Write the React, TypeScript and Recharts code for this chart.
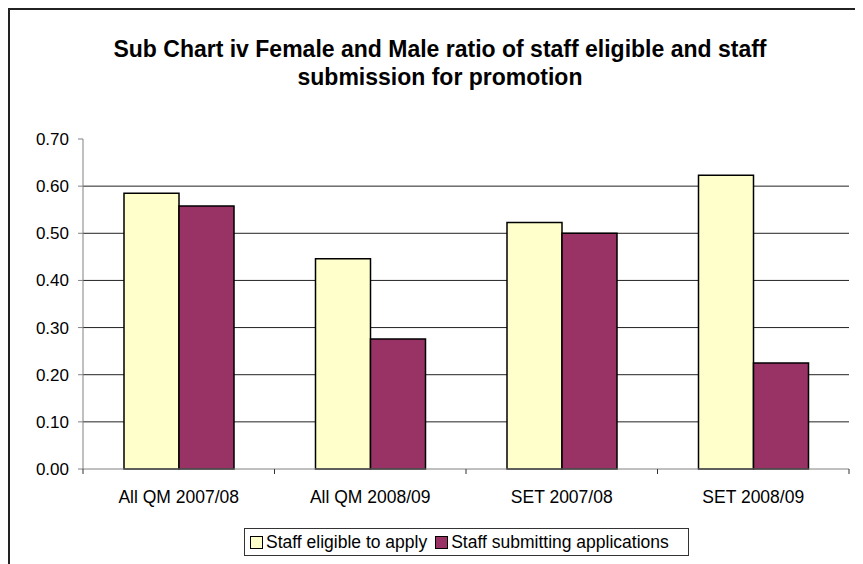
import React from 'react';
import { BarChart, Bar, XAxis, YAxis, CartesianGrid, Legend } from 'recharts';

const categories = ['All QM 2007/08', 'All QM 2008/09', 'SET 2007/08', 'SET 2008/09'];
const eligible = [0.585, 0.446, 0.523, 0.623];
const submitting = [0.558, 0.276, 0.5, 0.225];
const yTicks = [0, 0.1, 0.2, 0.3, 0.4, 0.5, 0.6, 0.7];
const gridValues = [0.1, 0.2, 0.3, 0.4, 0.5, 0.6];
const titleLines = [
  'Sub Chart iv Female and Male ratio of staff eligible and staff',
  'submission for promotion',
];
const seriesList = [
  { key: 'eligible', name: 'Staff eligible to apply', fill: '#FFFFCC' },
  { key: 'submitting', name: 'Staff submitting applications', fill: '#993366' },
];

const chartData = categories.map((c, i) => ({
  name: c,
  eligible: eligible[i],
  submitting: submitting[i],
}));

const FONT = '"Liberation Sans", Arial, sans-serif';
const X_TICK_SIZE = 6;
const X_TICK_MARGIN = 16;

// category labels centred, short tick marks on the category boundaries
const CategoryTick = (props: any) => {
  const { x, y, payload, index, visibleTicksCount } = props;
  const half = payload.offset ?? 0;
  const isLast = index === visibleTicksCount - 1;
  const axisY = y - X_TICK_SIZE - X_TICK_MARGIN;
  return (
    <g>
      <line x1={x - half} y1={axisY} x2={x - half} y2={axisY + 5} stroke="#333" />
      {isLast && <line x1={x + half} y1={axisY} x2={x + half} y2={axisY + 5} stroke="#333" />}
      <text x={x} y={y} dy="0.71em" textAnchor="middle" fill="#000" fontSize={17.5} fontFamily={FONT}>
        {payload.value}
      </text>
    </g>
  );
};

const renderLegend = () => (
  <div
    style={{
      border: '1px solid #333',
      width: 445,
      height: 28,
      boxSizing: 'border-box',
      display: 'flex',
      alignItems: 'center',
      paddingLeft: 5,
      fontSize: 17.5,
      fontFamily: FONT,
      color: '#000',
      whiteSpace: 'nowrap',
      background: '#fff',
    }}
  >
    {seriesList.map((s) => (
      <span key={s.key} style={{ display: 'flex', alignItems: 'center', marginRight: 8 }}>
        <span
          style={{
            display: 'inline-block',
            width: 13,
            height: 13,
            boxSizing: 'border-box',
            background: s.fill,
            border: '1.5px solid #000',
            marginRight: 3,
          }}
        />
        {s.name}
      </span>
    ))}
  </div>
);

export default function App() {
  return (
    <div style={{ position: 'relative', width: 855, height: 556, overflow: 'hidden' }}>
      <div
        style={{
          position: 'absolute',
          left: 0,
          top: 0,
          width: 900,
          height: 600,
          borderLeft: '2px solid #222',
          borderTop: '2px solid #222',
        }}
      />
      <div style={{ position: 'absolute', left: -8, top: -8 }}>
        <BarChart
          width={863}
          height={564}
          data={chartData}
          margin={{ top: 139, right: 14, bottom: 55, left: 0 }}
          barCategoryGap={41}
          barGap={0}
        >
          {titleLines.map((t, i) => (
            <text
              key={t}
              x={440}
              y={57 + i * 28}
              textAnchor="middle"
              fontSize={23}
              fontWeight="bold"
              fontFamily={FONT}
              fill="#000"
            >
              {t}
            </text>
          ))}
          <CartesianGrid vertical={false} horizontalValues={gridValues} stroke="#222" />
          <XAxis
            dataKey="name"
            height={40}
            axisLine={{ stroke: '#808080' }}
            tickLine={false}
            tickSize={X_TICK_SIZE}
            tickMargin={X_TICK_MARGIN}
            tick={<CategoryTick />}
            interval={0}
          />
          <YAxis
            width={83}
            domain={[0, 0.7]}
            ticks={yTicks}
            interval={0}
            axisLine={{ stroke: '#808080' }}
            tickLine={{ stroke: '#808080' }}
            tickSize={5}
            tickMargin={9}
            tickFormatter={(v: number) => v.toFixed(2)}
            tick={{ fill: '#000', fontSize: 17, fontFamily: FONT }}
          />
          <Legend
            layout="horizontal"
            verticalAlign="middle"
            align="center"
            content={renderLegend}
            wrapperStyle={{ position: 'absolute', left: 244, top: 528, width: 445, height: 28 }}
          />
          {seriesList.map((s) => (
            <Bar
              key={s.key}
              dataKey={s.key}
              name={s.name}
              fill={s.fill}
              stroke="#000"
              strokeWidth={1.5}
              isAnimationActive={false}
            />
          ))}
        </BarChart>
      </div>
    </div>
  );
}
